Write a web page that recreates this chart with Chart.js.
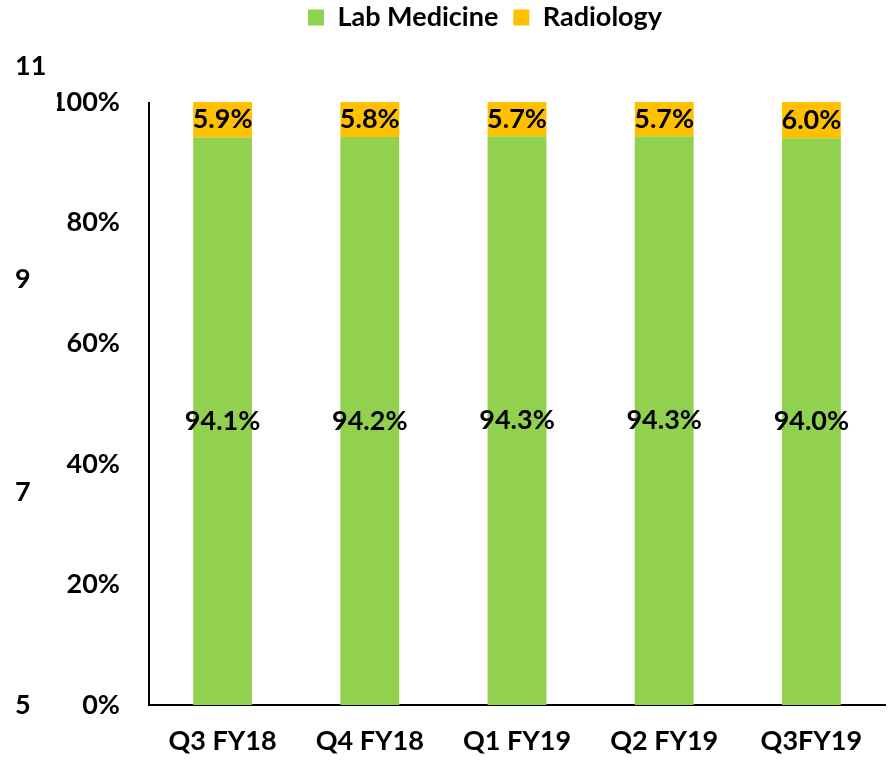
<!DOCTYPE html>
<html>
<head>
<meta charset="utf-8">
<script src="https://cdn.jsdelivr.net/npm/chart.js@4"></script>
<style>
  html, body { margin: 0; padding: 0; background: #fff; }
  #wrap { width: 891px; height: 760px; }
</style>
</head>
<body>
<div id="wrap"><canvas id="mixChart" width="891" height="760"></canvas></div>
<script>
const quarters = ['Q3 FY18', 'Q4 FY18', 'Q1 FY19', 'Q2 FY19', 'Q3FY19'];
const labMedicine = [94.1, 94.2, 94.3, 94.3, 94.0];
const radiology = [5.9, 5.8, 5.7, 5.7, 6.0];
const pctTicks = [0, 20, 40, 60, 80, 100];
const leftTicks = [5, 7, 9, 11];

const FONT = 'Lato, "Open Sans", sans-serif';

// value labels in the middle of each segment
const segmentLabels = {
  id: 'segmentLabels',
  afterDatasetsDraw(chart) {
    const ctx = chart.ctx;
    ctx.save();
    ctx.font = 'bold 27px ' + FONT;
    ctx.fillStyle = '#000';
    ctx.textAlign = 'center';
    ctx.textBaseline = 'middle';
    chart.data.datasets.forEach((ds, i) => {
      chart.getDatasetMeta(i).data.forEach((bar, j) => {
        const mid = (bar.y + bar.base) / 2;
        ctx.fillText(ds.data[j].toFixed(1) + '%', bar.x, mid);
      });
    });
    ctx.restore();
  }
};

// percent axis line only runs from 0% to 100%
const pctAxisLine = {
  id: 'pctAxisLine',
  afterDraw(chart) {
    const y = chart.scales.y;
    const ctx = chart.ctx;
    ctx.save();
    ctx.strokeStyle = '#000';
    ctx.lineWidth = 2;
    ctx.beginPath();
    ctx.moveTo(chart.chartArea.left, y.getPixelForValue(100));
    ctx.lineTo(chart.chartArea.left, y.getPixelForValue(0));
    ctx.stroke();
    ctx.restore();
  }
};

// legend sits a bit right of the canvas centre in the original
const legendShift = {
  id: 'legendShift',
  afterLayout(chart) {
    chart.legend.left += 35;
    chart.legend.right += 35;
  }
};

new Chart(document.getElementById('mixChart'), {
  type: 'bar',
  data: {
    labels: quarters,
    datasets: [
      { label: 'Lab Medicine', data: labMedicine, backgroundColor: '#92D050', yAxisID: 'y' },
      { label: 'Radiology', data: radiology, backgroundColor: '#FFC000', yAxisID: 'y' }
    ]
  },
  options: {
    responsive: false,
    animation: false,
    barPercentage: 0.4,
    categoryPercentage: 1.0,
    layout: { padding: { left: 15, right: 6, top: -11, bottom: 0 } },
    plugins: {
      legend: {
        position: 'top',
        weight: 3000,
        labels: {
          color: '#000',
          font: { family: FONT, size: 27, weight: 'bold' },
          boxWidth: 16,
          boxHeight: 16,
          padding: 15
        }
      },
      // empty title used as a spacer between legend and plot
      title: {
        display: true,
        text: ' ',
        weight: 2000,
        font: { size: 10, lineHeight: 1 },
        padding: { top: 5, bottom: 10 }
      },
      tooltip: { enabled: false }
    },
    scales: {
      x: {
        stacked: true,
        grid: { display: false, drawTicks: false },
        border: { display: true, color: '#000', width: 2 },
        ticks: { color: '#000', padding: 20, font: { family: FONT, size: 27, weight: 'bold' } },
        afterFit(s) { s.height = 55; }
      },
      y: {
        stacked: true,
        position: 'left',
        weight: 0,
        min: 0,
        max: 105.97,
        grid: { display: false, drawTicks: false },
        border: { display: false },
        afterBuildTicks(s) { s.ticks = pctTicks.map(v => ({ value: v })); },
        ticks: {
          color: '#000',
          padding: 29,
          font: { family: FONT, size: 27, weight: 'bold' },
          callback: v => v + '%'
        },
        afterFit(s) { s.width = 92; }
      },
      y2: {
        position: 'left',
        weight: 10,
        min: 5,
        max: 11,
        grid: { display: false, drawTicks: false },
        border: { display: false },
        afterBuildTicks(s) { s.ticks = leftTicks.map(v => ({ value: v })); },
        ticks: {
          color: '#000',
          crossAlign: 'far',
          font: { family: FONT, size: 27, weight: 'bold' }
        },
        afterFit(s) { s.width = 42; }
      }
    }
  },
  plugins: [segmentLabels, pctAxisLine, legendShift]
});
</script>
</body>
</html>
